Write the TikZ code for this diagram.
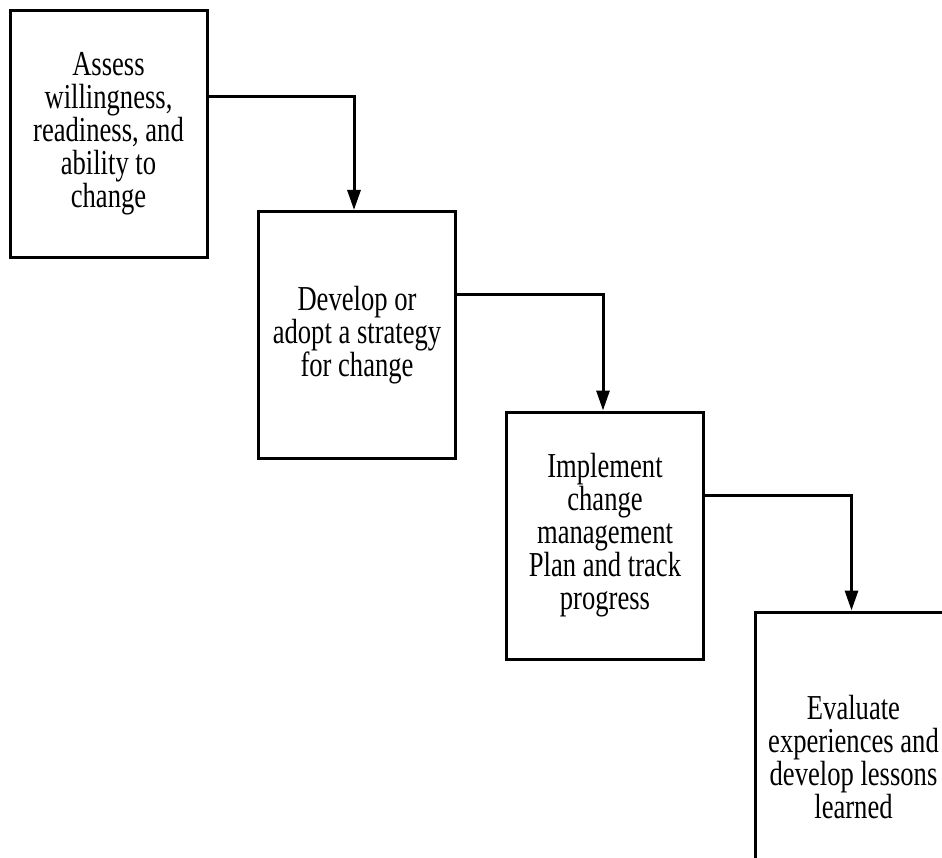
\documentclass[tikz,border=0pt]{standalone}
\usepackage{fontspec}
\setmainfont{Liberation Serif}[FakeStretch=0.76]
\usetikzlibrary{arrows.meta}
\usetikzlibrary{calc}
\tikzstyle{stage}=[draw, line width=3pt, minimum width=197pt, minimum height=247pt, align=center, font=\fontsize{35}{33}\selectfont]
\tikzstyle{flow}=[line width=3pt, -{Triangle[length=20pt, width=13pt]}]

\begin{document}
\begin{tikzpicture}[x=1pt, y=-1pt]
      \clip (0, 0) rectangle (942, 858);
      \node[stage] (assess) at (108.5, 134) {Assess\\willingness,\\readiness, and\\ability to\\change};
      \node[stage] (develop) at (357, 335) {Develop or\\adopt a strategy\\for change};
      \node[stage] (implement) at (605, 535.5) {Implement\\change\\management\\Plan and track\\progress};
      \node[stage, minimum height=290pt] (evaluate) at (853.5, 757) {Evaluate\\experiences and\\develop lessons\\learned};
      \draw[flow] ($(assess.north east)!0.35!(assess.south east)$)
        -| ([xshift=-3pt]develop.north);
      \draw[flow] ($(develop.north east)!0.34!(develop.south east)$)
        -| ([xshift=-2pt]implement.north);
      \draw[flow] ($(implement.north east)!0.34!(implement.south east)$)
        -| ([xshift=-2pt]evaluate.north);
    \end{tikzpicture}
\end{document}
